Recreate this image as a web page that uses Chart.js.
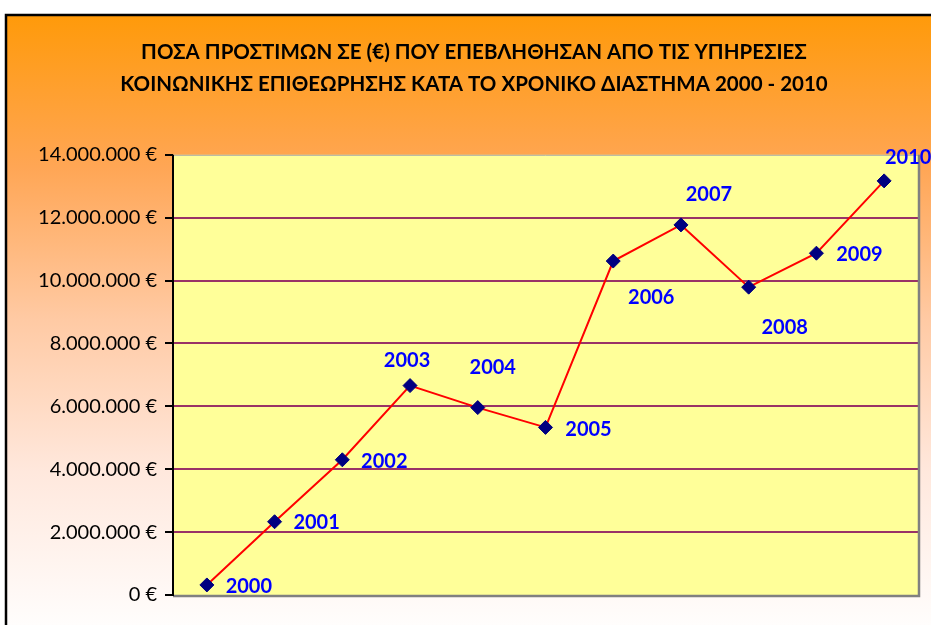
<!DOCTYPE html>
<html lang="el">
<head>
<meta charset="utf-8">
<title>Πρόστιμα 2000 - 2010</title>
<script src="https://cdn.jsdelivr.net/npm/chart.js@4.4.1/dist/chart.umd.min.js"></script>
<style>
  html, body { margin: 0; padding: 0; background: #fff; }
  canvas { display: block; }
</style>
</head>
<body>
<canvas id="myChart" width="931" height="625"></canvas>
<script>

// data
var years = ['2000', '2001', '2002', '2003', '2004', '2005', '2006', '2007', '2008', '2009', '2010'];
var fines = [320000, 2330000, 4300000, 6660000, 5960000, 5330000, 10620000, 11770000, 9790000, 10870000, 13170000];
var titleLines = [
    'ΠΟΣΑ ΠΡΟΣΤΙΜΩΝ ΣΕ (€) ΠΟΥ ΕΠΕΒΛΗΘΗΣΑΝ ΑΠΟ ΤΙΣ ΥΠΗΡΕΣΙΕΣ',
    'ΚΟΙΝΩΝΙΚΗΣ ΕΠΙΘΕΩΡΗΣΗΣ ΚΑΤΑ ΤΟ ΧΡΟΝΙΚΟ ΔΙΑΣΤΗΜΑ 2000 - 2010'
];
var yMax = 14000000;
var yStep = 2000000;

// where each year label sits relative to its marker (dx, dy in px)
var labelOffset = [
    [42, 2], [42, 1], [42, 2], [-3, -25], [15, -40], [43, 2],
    [38, 36], [28, -30], [36, 40], [43, 1], [24, -23]
];

function euro(v) {
    var s = Math.round(v).toString().replace(/\B(?=(\d{3})+(?!\d))/g, '.');
    return s + ' €';
}

var bgPlugin = {
    id: 'bgPlugin',
    beforeDraw: function(chart) {
        var ctx = chart.ctx;
        var a = chart.chartArea;
        ctx.save();
        ctx.fillStyle = '#ffffff';
        ctx.fillRect(0, 0, chart.width, chart.height);
        var g = ctx.createLinearGradient(0, 15, 0, 625);
        g.addColorStop(0, '#ff9a0a');
        g.addColorStop(0.25, '#ffa655');
        g.addColorStop(0.5, '#ffcaa4');
        g.addColorStop(0.75, '#ffe8dd');
        g.addColorStop(1, '#fffdfc');
        ctx.fillStyle = g;
        ctx.fillRect(6, 15, chart.width, chart.height);
        ctx.strokeStyle = '#000';
        ctx.lineWidth = 2.5;
        ctx.strokeRect(6, 15, chart.width + 10, chart.height + 10);
        // plot area
        ctx.fillStyle = '#ffff99';
        ctx.fillRect(a.left, a.top, a.right - a.left, a.bottom - a.top);
        ctx.restore();
    },
    beforeDatasetsDraw: function(chart) {
        var ctx = chart.ctx;
        var a = chart.chartArea;
        ctx.save();
        ctx.strokeStyle = '#a8a8a8';
        ctx.lineWidth = 1;
        ctx.beginPath();
        ctx.moveTo(a.left, a.top + 0.5);
        ctx.lineTo(a.right, a.top + 0.5);
        ctx.stroke();
        ctx.strokeStyle = '#808080';
        ctx.lineWidth = 2.5;
        ctx.beginPath();
        ctx.moveTo(a.left, a.bottom + 1);
        ctx.lineTo(a.right + 1, a.bottom + 1);
        ctx.lineTo(a.right + 1, a.top);
        ctx.stroke();
        // y axis line
        ctx.strokeStyle = '#000';
        ctx.lineWidth = 2;
        ctx.beginPath();
        ctx.moveTo(a.left, a.top);
        ctx.lineTo(a.left, a.bottom + 1);
        ctx.stroke();
        ctx.restore();
    },
    afterDatasetsDraw: function(chart) {
        var ctx = chart.ctx;
        var pts = chart.getDatasetMeta(0).data;
        ctx.save();
        ctx.font = 'bold 20px Lato, "Open Sans", sans-serif';
        ctx.fillStyle = '#0000ff';
        ctx.textAlign = 'center';
        ctx.textBaseline = 'middle';
        for (var i = 0; i < pts.length; i++) {
            ctx.fillText(years[i], pts[i].x + labelOffset[i][0], pts[i].y + labelOffset[i][1]);
        }
        ctx.restore();
    }
};

var ctx = document.getElementById('myChart');
var myLineChart = new Chart(ctx, {
    type: 'line',
    data: {
        labels: years,
        datasets: [{
            label: 'Πρόστιμα',
            data: fines,
            borderColor: '#ff0000',
            borderWidth: 2,
            backgroundColor: '#000080',
            pointStyle: 'rectRot',
            pointRadius: 7,
            pointBackgroundColor: '#000080',
            pointBorderColor: '#000080',
            pointBorderWidth: 1,
            fill: false,
            tension: 0
        }]
    },
    options: {
        responsive: false,
        animation: false,
        events: [],
        layout: { padding: { left: 30, top: 0, right: 13, bottom: 30 } },
        plugins: {
            legend: { display: false },
            tooltip: { enabled: false },
            title: {
                display: true,
                text: titleLines,
                color: '#000',
                font: { family: 'Lato, "Open Sans", sans-serif', size: 20.5, weight: 'bold', lineHeight: 1.58 },
                padding: { top: 36, bottom: 54 }
            }
        },
        scales: {
            x: {
                display: false,
                offset: true
            },
            y: {
                min: 0,
                max: yMax,
                afterFit: function(scale) { scale.width = 143; },
                border: { display: false },
                grid: {
                    color: function(c) {
                        if (c.tick && (c.tick.value === 0 || c.tick.value === yMax)) return 'rgba(0,0,0,0)';
                        return '#993366';
                    },
                    lineWidth: 2,
                    drawTicks: true,
                    tickLength: 8,
                    tickColor: '#000',
                    tickWidth: 2
                },
                ticks: {
                    stepSize: yStep,
                    padding: 8,
                    color: '#000',
                    font: { family: 'Lato, "Open Sans", sans-serif', size: 20 },
                    callback: function(v) { return euro(v); }
                }
            }
        }
    },
    plugins: [bgPlugin]
});

</script>
</body>
</html>
